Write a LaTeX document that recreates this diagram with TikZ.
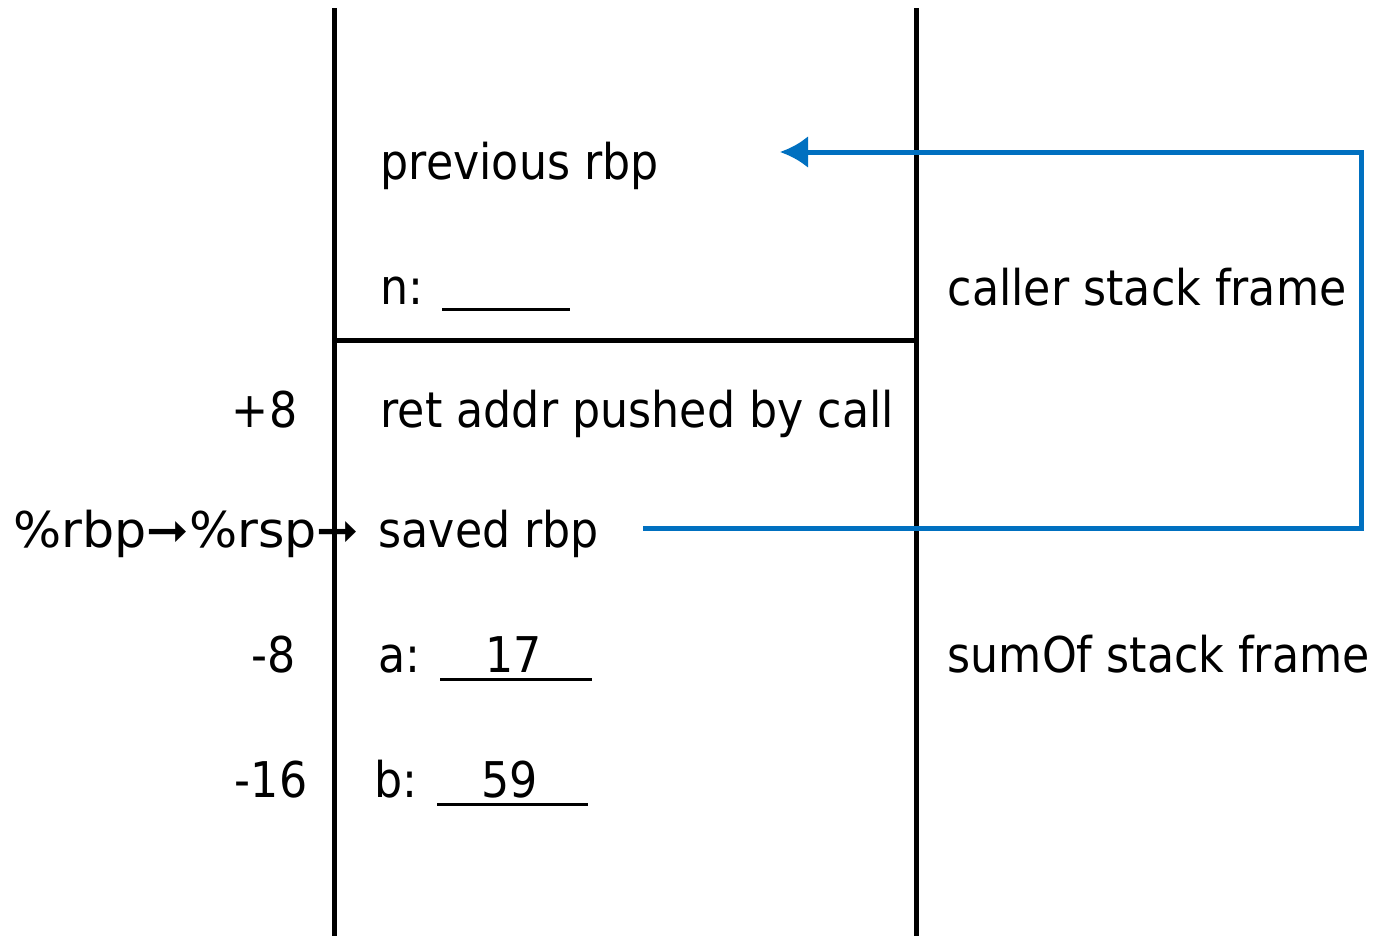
\documentclass[tikz,border=0pt]{standalone}
\usepackage{fontspec}
\setmainfont{DejaVu Sans}[FakeStretch=0.9]
\newfontfamily\regfont{DejaVu Sans}[FakeStretch=1.03]
\usepackage{tikz}
\usetikzlibrary{arrows.meta}
\definecolor{linkblue}{HTML}{0070C0}

\begin{document}
\begin{tikzpicture}[x=0.01cm,y=-0.01cm]
	\tikzset{>=Latex,
		lbl/.style={inner sep=0pt,font=\fontsize{14pt}{16pt}\selectfont},
		wall/.style={line width=0.05cm},
		blank/.style={line width=0.03cm}}
	\useasboundingbox (0,0) rectangle (1376,936);
	
	% stack walls
	\coordinate (lt) at (334,8);
	\coordinate (lb) at (334,936);
	\coordinate (rt) at (916,8);
	\coordinate (rb) at (916,936);
	\draw[wall] (lt) -- (lb);
	\draw[wall] (rt) -- (rb);
	\draw[wall] (334,340) -- (916,340);
	
	% caller frame
	\node[lbl,anchor=base west] (prevrbp) at (380,179) {previous rbp};
	\node[lbl,anchor=base west] (nvar) at (380,304) {n:};
	\draw[blank] (442,309) -- (570,309);
	\node[lbl,anchor=base west] (callerlbl) at (947,305) {caller stack frame};
	
	% sumOf frame
	\node[lbl,anchor=base east] (offp8) at (298,427) {+8};
	\node[lbl,anchor=base west] (retaddr) at (380,427) {ret addr pushed by call};
	\node[lbl,anchor=base east] (regs) at (360,547) {\regfont\%rbp➞\%rsp➞};
	\node[lbl,anchor=base west] (savedrbp) at (378,547) {saved rbp};
	\node[lbl,anchor=base east] (offm8) at (296,672) {-8};
	\node[lbl,anchor=base west] (avar) at (378,672) {a:};
	\draw[blank] (440,679) -- (592,679);
	\node[lbl,anchor=base] (aval) at (514,672) {17};
	\node[lbl,anchor=base east] (offm16) at (308,797) {-16};
	\node[lbl,anchor=base west] (bvar) at (374,797) {b:};
	\draw[blank] (437,804) -- (588,804);
	\node[lbl,anchor=base] (bval) at (510,797) {59};
	\node[lbl,anchor=base west] (sumlbl) at (947,672) {sumOf stack frame};
	
	% saved rbp points back to previous rbp
	\coordinate (linkstart) at (643,528);
	\coordinate (linkturn) at (1361,152);
	\coordinate (linkend) at (780,152);
	\draw[linkblue,line width=0.05cm,-{Latex[length=0.28cm,width=0.32cm]}]
		(linkstart) -| (linkturn) -- (linkend);
	
\end{tikzpicture}
\end{document}
